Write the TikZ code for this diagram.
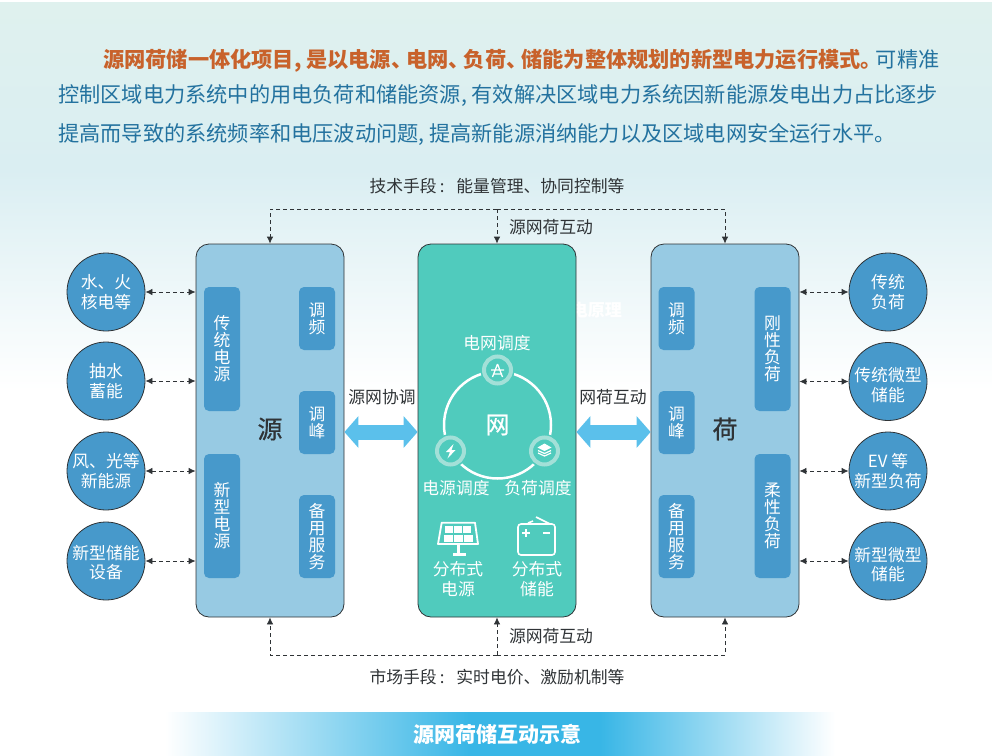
\documentclass[tikz,border=0pt]{standalone}
\usepackage{fontspec}
\setmainfont{Noto Sans CJK SC}
\newfontfamily\medcjk[FakeBold=0.5]{Noto Sans CJK SC}
\usetikzlibrary{arrows.meta,shapes.geometric}
\definecolor{txtdark}{HTML}{2F3336}
\definecolor{paraorange}{HTML}{C8622B}
\definecolor{parablue}{HTML}{23729F}
\definecolor{boxblue}{HTML}{97CAE3}
\definecolor{barblue}{HTML}{4799CB}
\definecolor{teal1}{HTML}{50CBBD}
\definecolor{ringlight}{HTML}{A3E0D8}
\definecolor{bigarrowblue}{HTML}{5BC0EB}
\definecolor{bannerblue}{HTML}{38B6E6}
\definecolor{bgtop}{HTML}{DFF1EE}
\definecolor{bgmid}{HTML}{DAEEF2}
\newcommand{\lab}{\fontsize{16.8}{19.5}\selectfont}
\newcommand{\nkern}{\hspace{-6pt}}
\newcommand{\wcolon}{\hspace{3pt}:\hspace{12pt}}
\tikzset{
  x=1pt,y=-1pt,
  paraline/.style={anchor=west,inner sep=0pt,font=\fontsize{21.2}{24}\selectfont},
  mainbox/.style={draw=txtdark,line width=0.8pt,rounded corners=13pt,minimum width=148pt,minimum height=373pt,inner sep=0pt},
  barbox/.style={fill=barblue,rounded corners=5pt,minimum width=36pt,inner sep=0pt,text=white,align=center,font=\fontsize{16.8}{17}\selectfont},
  sidecircle/.style={circle,draw=txtdark,line width=0.8pt,fill=barblue,minimum size=78pt,inner sep=0pt,text=white,align=center,font=\lab},
  plainlabel/.style={inner sep=0pt,text=txtdark,font=\lab},
  whitelabel/.style={inner sep=0pt,text=white,align=center,font=\lab},
  dashline/.style={draw=txtdark,line width=0.8pt,dash pattern=on 4pt off 3pt},
  dashtip/.style={dashline,-{Latex[length=7pt,width=6.5pt]}},
  dashboth/.style={dashline,{Latex[length=7pt,width=6.5pt]}-{Latex[length=7pt,width=6.5pt]}},
  bigarrow/.style={draw=bigarrowblue,line width=15pt,{Triangle[length=14pt,width=31pt]}-{Triangle[length=14pt,width=31pt]}},
  dispatch/.style={circle,fill=teal1,draw=ringlight,line width=4pt,minimum size=27pt,inner sep=0pt},
  iconline/.style={draw=white,line width=1.6pt,line join=round},
}
\begin{document}
\begin{tikzpicture}
\path[use as bounding box] (0,0) rectangle (992,755);
% background
\fill[top color=bgtop,bottom color=bgmid] (0,2) rectangle (992,170);
\fill[top color=bgmid,bottom color=white] (0,170) rectangle (992,390);
\fill[left color=white,right color=bannerblue] (165,712) rectangle (470,758);
\fill[bannerblue] (469.5,712) rectangle (600.5,758);
\fill[left color=bannerblue,right color=white] (600,712) rectangle (835,758);
% paragraph
\node[paraline,text=paraorange] (p1) at (103,60.5) {\bfseries 源网荷储一体化项目, 是以电源、\nkern 电网、\nkern 负荷、\nkern 储能为整体规划的新型电力运行模式。\nkern\mdseries\textcolor{parablue}{可精准}};
\node[paraline,text=parablue] (p2) at (58,96) {控制区域电力系统中的用电负荷和储能资源, 有效解决区域电力系统因新能源发电出力占比逐步};
\node[paraline,text=parablue] (p3) at (58,134) {提高而导致的系统频率和电压波动问题, 提高新能源消纳能力以及区域电网安全运行水平。};
% ghost text
\node[inner sep=0pt,anchor=east,text=white,font=\fontsize{17}{20}\selectfont\bfseries] (ghost) at (622,310) {电原理};
% main boxes
\node[mainbox,fill=boxblue] (yuan) at (270,430.5) {};
\node[mainbox,fill=teal1,minimum width=158pt] (wang) at (497,430.5) {};
\node[mainbox,fill=boxblue] (he) at (725,430.5) {};
% bars left
\node[barbox,minimum height=124pt] (b1) at (222,349) {传\\统\\电\\源};
\node[barbox,minimum height=124pt] (b2) at (222,516) {新\\型\\电\\源};
\node[barbox,minimum height=63pt] (b3) at (317,318.5) {调\\频};
\node[barbox,minimum height=63pt] (b4) at (317,422.5) {调\\峰};
\node[barbox,minimum height=83pt] (b5) at (317,536.5) {备\\用\\服\\务};
% bars right
\node[barbox,minimum height=63pt] (b6) at (676.5,318.5) {调\\频};
\node[barbox,minimum height=63pt] (b7) at (676.5,422.5) {调\\峰};
\node[barbox,minimum height=83pt] (b8) at (676.5,536.5) {备\\用\\服\\务};
\node[barbox,minimum height=124pt] (b9) at (772.5,349) {刚\\性\\负\\荷};
\node[barbox,minimum height=124pt] (b10) at (772.5,516) {柔\\性\\负\\荷};
\node[inner sep=0pt,text=txtdark,font=\fontsize{25}{28}\selectfont\medcjk] (lyuan) at (270,429) {源};
\node[inner sep=0pt,text=txtdark,font=\fontsize{25}{28}\selectfont\medcjk] (lhe) at (725,429) {荷};
% side circles
\node[sidecircle] (c1) at (106,292) {水、火\\核电等};
\node[sidecircle] (c2) at (106,381) {抽水\\蓄能};
\node[sidecircle] (c3) at (106,471) {风、光等\\新能源};
\node[sidecircle] (c4) at (106,561) {};
\node[whitelabel] (c4t) at (106,562.5) {新型储能\\设备};
\node[sidecircle] (c5) at (888,292) {传统\\负荷};
\node[sidecircle] (c6) at (888,381.5) {};
\node[whitelabel] (c6t) at (888,385) {传统微型\\储能};
\node[sidecircle] (c7) at (888,471) {EV 等\\新型负荷};
\node[sidecircle] (c8) at (888,561) {};
\node[whitelabel] (c8t) at (888,564.5) {新型微型\\储能};
% dashed double arrows
\draw[dashboth] (c1.east) -- (c1 -| yuan.west);
\draw[dashboth] (c2.east) -- (c2 -| yuan.west);
\draw[dashboth] (c3.east) -- (c3 -| yuan.west);
\draw[dashboth] (c4.east) -- (c4 -| yuan.west);
\draw[dashboth] (c5.west) -- (c5 -| he.east);
\draw[dashboth] (c6.west) -- (c6 -| he.east);
\draw[dashboth] (c7.west) -- (c7 -| he.east);
\draw[dashboth] (c8.west) -- (c8 -| he.east);
% buses
\coordinate (topbus) at (497,209);
\coordinate (botbus) at (497,655);
\draw[dashtip] (topbus) -| (yuan.north);
\draw[dashtip] (topbus) -| (he.north);
\draw[dashtip] (topbus) -- (wang.north);
\draw[dashtip] (botbus) -| (yuan.south);
\draw[dashtip] (botbus) -| (he.south);
\draw[dashtip] (botbus) -- (wang.south);
% labels
\node[plainlabel] (t1) at (497,186) {技术手段\wcolon 能量管理、协同控制等};
\node[plainlabel] (t2) at (551,227) {源网荷互动};
\node[plainlabel] (t3) at (551,636) {源网荷互动};
\node[plainlabel] (t4) at (497,677) {市场手段\wcolon 实时电价、激励机制等};
\node[plainlabel] (t5) at (382,397) {源网协调};
\node[plainlabel] (t6) at (613,397) {网荷互动};
% big arrows
\draw[bigarrow] ([yshift=-1.5pt]yuan.east) -- ([yshift=-1.5pt]wang.west);
\draw[bigarrow] ([yshift=-1.5pt]wang.east) -- ([yshift=-1.5pt]he.west);
% dispatch ring
\node[circle,draw=white,line width=2.5pt,minimum size=107pt,inner sep=0pt,text=white,font=\fontsize{24}{26}\selectfont\medcjk] (ring) at (497.5,425) {网};
\fill[teal1] (497.5,370) circle (17);
\fill[teal1] (450.5,451) circle (17);
\fill[teal1] (544.5,451) circle (17);
\node[dispatch] (d1) at (497.5,370) {};
\node[dispatch] (d2) at (450.5,451) {};
\node[dispatch] (d3) at (544.5,451) {};
% tower icon
\draw[iconline,line width=1.3pt] (497.5,364) -- (492.5,377) (497.5,364) -- (502.5,377) (491,370) -- (504,370) (493,374) -- (502,374);
% bolt icon
\fill[white] (453.5,444) -- (446,452) -- (450,452) -- (447.5,458.5) -- (455.5,450) -- (451.5,450) -- cycle;
% layers icon
\foreach \yy in {455.5,458}{
  \draw[white,line width=1.2pt,line join=round] (538,\yy-5) -- (544.5,\yy-2) -- (551,\yy-5);
}
\fill[white] (544.5,443.5) -- (551.5,447.5) -- (544.5,451) -- (537.5,447.5) -- cycle;
\node[whitelabel] (w1) at (497,343) {电网调度};
\node[whitelabel] (w2) at (456,488) {电源调度};
\node[whitelabel] (w3) at (538,488) {负荷调度};
% solar icon
\draw[iconline,line width=1.8pt] (441.7,522.7) -- (475,522.7) -- (478,544) -- (438,544) -- cycle;
\foreach \cx in {445.3,454.3,463.3}{
  \fill[white] (\cx,526) rectangle ++(8,6.5);
}
\foreach \cx in {443.5,453.5,463.5}{
  \fill[white] (\cx,535) rectangle ++(9.2,6.5);
}
\fill[white] (456.5,544) rectangle (460,553);
\fill[white] (452.5,553) rectangle (465.5,556);
% battery icon
\draw[iconline,rounded corners=3pt] (518,524) rectangle (555,555);
\draw[iconline] (528,523) -- (533,521) (536,517) -- (550,524);
\draw[iconline] (522,532.7) -- (529.5,532.7) (525.7,529) -- (525.7,536.5) (543,532.7) -- (550,532.7);
\node[whitelabel] (w4) at (458,579) {分布式\\电源};
\node[whitelabel] (w5) at (537,579) {分布式\\储能};
% banner title
\node[inner sep=0pt,text=white,font=\fontsize{21}{24}\selectfont\bfseries] (title) at (497,734) {源网荷储互动示意};
\end{tikzpicture}
\end{document}
